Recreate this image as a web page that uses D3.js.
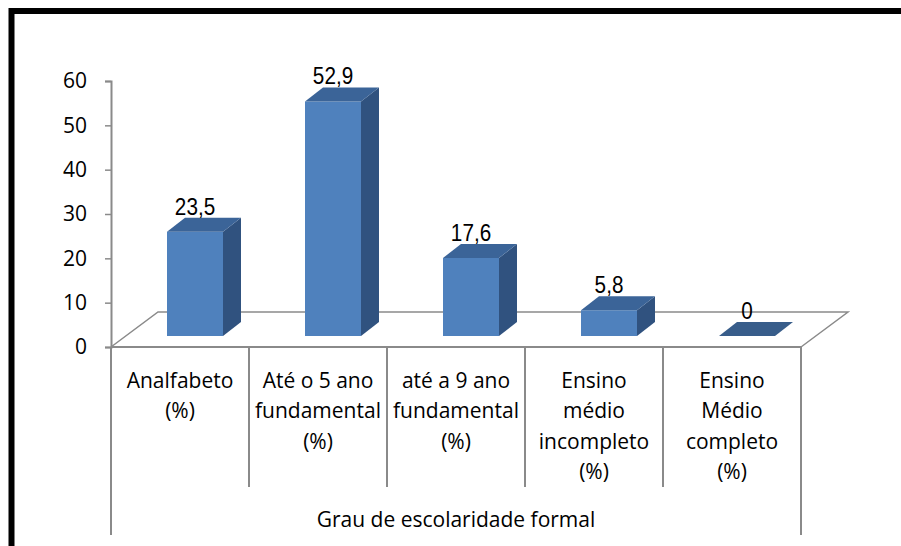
<!DOCTYPE html>
<html>
<head>
<meta charset="utf-8">
<script src="https://cdn.jsdelivr.net/npm/d3@7"></script>
<style>
  html, body { margin: 0; padding: 0; background: #fff; }
  svg { display: block; }
  text { font-family: "Open Sans", sans-serif; fill: #000; }
  .val { font-family: "Liberation Sans", Arial, sans-serif; }
</style>
</head>
<body>
<svg id="chart" width="901" height="546"></svg>
<script>
// Education level categories (each entry is a list of label lines)
const categories = [
  ["Analfabeto", "(%)"],
  ["Até o 5 ano", "fundamental", "(%)"],
  ["até a 9 ano", "fundamental", "(%)"],
  ["Ensino", "médio", "incompleto", "(%)"],
  ["Ensino", "Médio", "completo", "(%)"]
];
const values = [23.5, 52.9, 17.6, 5.8, 0];
const valueLabels = ["23,5", "52,9", "17,6", "5,8", "0"];
const yTicks = [0, 10, 20, 30, 40, 50, 60];
const axisTitle = "Grau de escolaridade formal";

const svg = d3.select("#chart");

// Frame around the chart area
svg.append("path")
  .attr("d", "M11.5,560 L11.5,11 L910,11")
  .attr("fill", "none")
  .attr("stroke", "#000")
  .attr("stroke-width", 6);

// Plot geometry
const plotLeft = 111, plotRight = 801;
const y = d3.scaleLinear().domain([0, 60]).range([347, 81]);
const x = d3.scaleBand().domain(d3.range(categories.length)).range([plotLeft, plotRight]).paddingInner(0).paddingOuter(0);

// 3D offsets
const floorDX = 47, floorDY = -35;   // full depth of the floor
const barFrontDX = 15, barFrontDY = -11; // where bar front faces sit
const barDX = 18, barDY = -14;       // bar depth
const barW = 56;

const axisColor = "#8a8a8a";
const frontColor = "#4f81bd", topColor = "#3b6498", sideColor = "#30527f";
const labelSize = 21;

// Floor outline
const y0 = y(0);
svg.append("path")
  .attr("d", `M${plotLeft},${y0} L${plotLeft + floorDX},${y0 + floorDY} L${plotRight + floorDX},${y0 + floorDY} L${plotRight},${y0}`)
  .attr("fill", "none")
  .attr("stroke", axisColor)
  .attr("stroke-width", 1.5);

// Value axis
const yAxis = d3.axisLeft(y).tickValues(yTicks).tickSize(6).tickPadding(18).tickFormat(d3.format("d"));
const gy = svg.append("g").attr("transform", `translate(${plotLeft},0)`).call(yAxis);
gy.select(".domain").attr("stroke", axisColor).attr("stroke-width", 2);
gy.selectAll(".tick line").attr("stroke", axisColor).attr("stroke-width", 1.5);
gy.selectAll(".tick text").attr("font-size", labelSize).attr("font-family", "Open Sans").attr("fill", "#000");

// Category table lines below the floor
svg.append("line")
  .attr("x1", plotLeft).attr("x2", plotRight)
  .attr("y1", y0).attr("y2", y0)
  .attr("stroke", axisColor).attr("stroke-width", 2);
const bounds = d3.range(categories.length + 1).map(i => i < categories.length ? x(i) : plotRight);
svg.selectAll("line.div").data(bounds).join("line")
  .attr("class", "div")
  .attr("x1", d => d).attr("x2", d => d)
  .attr("y1", y0)
  .attr("y2", (d, i) => (i === 0 || i === categories.length) ? 535 : 487)
  .attr("stroke", axisColor).attr("stroke-width", 2);

// Bars
const bars = svg.selectAll("g.bar").data(values).join("g").attr("class", "bar");
bars.each(function (v, i) {
  const g = d3.select(this);
  const xl = x(i) + (x.bandwidth() - barW) / 2 + barFrontDX;
  const xr = xl + barW;
  const yb = y(0) + barFrontDY;
  const yt = y(v) + barFrontDY;
  if (v > 0) {
    g.append("path") // side
      .attr("d", `M${xr},${yb} L${xr + barDX},${yb + barDY} L${xr + barDX},${yt + barDY} L${xr},${yt}Z`)
      .attr("fill", sideColor);
    g.append("path") // front
      .attr("d", `M${xl},${yb} L${xr},${yb} L${xr},${yt} L${xl},${yt}Z`)
      .attr("fill", frontColor);
  }
  g.append("path") // top
    .attr("d", `M${xl},${yt} L${xr},${yt} L${xr + barDX},${yt + barDY} L${xl + barDX},${yt + barDY}Z`)
    .attr("fill", v > 0 ? topColor : "#385d8a");
  // value label, slightly condensed
  g.append("text")
    .attr("class", "val")
    .attr("transform", `translate(${(xl + xr) / 2},${yt + barDY - 3}) scale(0.9,1)`)
    .attr("text-anchor", "middle")
    .attr("font-size", 23)
    .text(valueLabels[i]);
});

// Category labels
const lineH = 30.3;
svg.selectAll("text.cat").data(categories).join("text")
  .attr("class", "cat")
  .attr("text-anchor", "middle")
  .attr("font-size", labelSize)
  .each(function (lines, i) {
    const t = d3.select(this);
    lines.forEach((ln, k) => {
      t.append("tspan")
        .attr("x", x(i) + x.bandwidth() / 2)
        .attr("y", 388 + k * lineH)
        .text(ln);
    });
  });

// Axis title
svg.append("text")
  .attr("x", (plotLeft + plotRight) / 2)
  .attr("y", 527)
  .attr("text-anchor", "middle")
  .attr("font-size", labelSize)
  .text(axisTitle);
</script>
</body>
</html>
